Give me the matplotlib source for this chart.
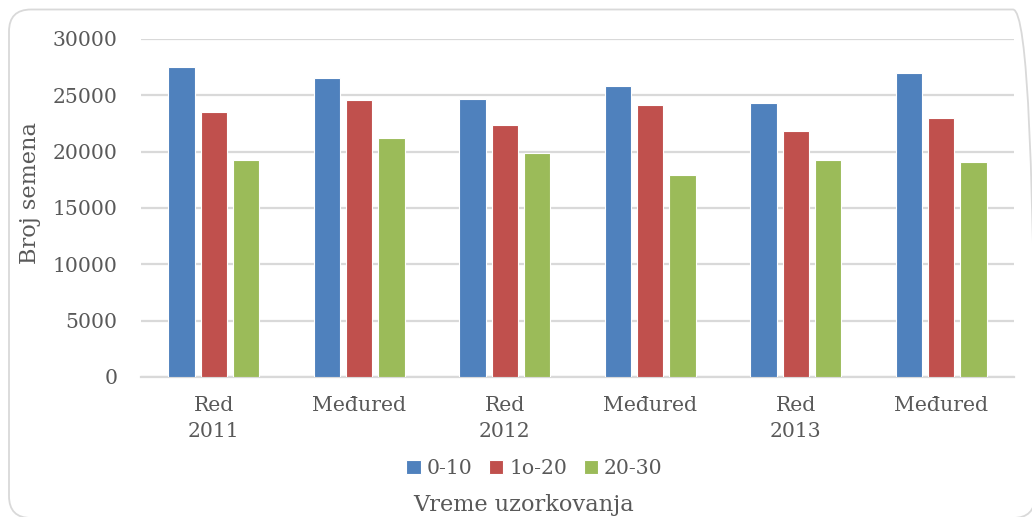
import numpy as np
import matplotlib
matplotlib.use("Agg")
import matplotlib.pyplot as plt
from matplotlib.patches import FancyBboxPatch
from matplotlib.transforms import IdentityTransform

# data
categories = ["Red\n2011", "Međured", "Red\n2012", "Međured", "Red\n2013", "Međured"]
series_names = ["0-10", "1o-20", "20-30"]
s_0_10 = [27500, 26500, 24700, 25800, 24300, 27000]
s_10_20 = [23500, 24600, 22400, 24100, 21800, 23000]
s_20_30 = [19300, 21200, 19900, 17900, 19300, 19100]

colors = ["#4F81BD", "#C0504D", "#9BBB59"]
text_col = "#595959"
grid_col = "#D9D9D9"

plt.rcParams['font.family'] = ['DejaVu Serif']

fig = plt.figure(figsize=(10.32, 5.17), dpi=100)
ax = fig.add_axes([0.1366, 0.2708, 0.846, 0.6538])

x = np.arange(len(categories))
step = 0.222
width = 0.18
for i, (vals, name) in enumerate(zip([s_0_10, s_10_20, s_20_30], series_names)):
    ax.bar(x + (i - 1) * step, vals, width=width, color=colors[i],
           edgecolor="white", linewidth=0.8, label=name, zorder=3)

ax.set_xlim(-0.5, len(categories) - 0.5)
ax.set_ylim(0, 30000)
ax.set_yticks(range(0, 30001, 5000))
ax.yaxis.grid(True, color=grid_col, linewidth=1.6, zorder=0)
ax.set_axisbelow(True)
for side in ["top", "right", "left"]:
    ax.spines[side].set_visible(False)
ax.spines["bottom"].set_color(grid_col)
ax.spines["bottom"].set_linewidth(1.6)
ax.tick_params(axis="both", length=0, colors=text_col, labelsize=14.7)
ax.tick_params(axis="y", pad=17)
ax.tick_params(axis="x", pad=14)
ax.set_xticks(x)
ax.set_xticklabels(categories, linespacing=1.45)

ax.set_ylabel("Broj semena", fontsize=16.2, color=text_col, labelpad=8)
ax.yaxis.label.set_y(0.544)
fig.text(0.507, 0.024, "Vreme uzorkovanja", fontsize=16.2, color=text_col,
         ha="center", va="center")

ax.legend(loc="center", bbox_to_anchor=(0.518, 0.094), bbox_transform=fig.transFigure,
          ncol=3, frameon=False, fontsize=14.7, handlelength=0.7, handleheight=0.7,
          handletextpad=0.3, columnspacing=0.8, labelcolor=text_col)

# rounded chart border, runs off the right and bottom edges
border = FancyBboxPatch((9, -1), 1026, 508.5, boxstyle="round,pad=0,rounding_size=22",
                        transform=IdentityTransform(), facecolor="none",
                        edgecolor=grid_col, linewidth=1.3)
fig.patches.append(border)

fig.savefig("out.png", dpi=100)
